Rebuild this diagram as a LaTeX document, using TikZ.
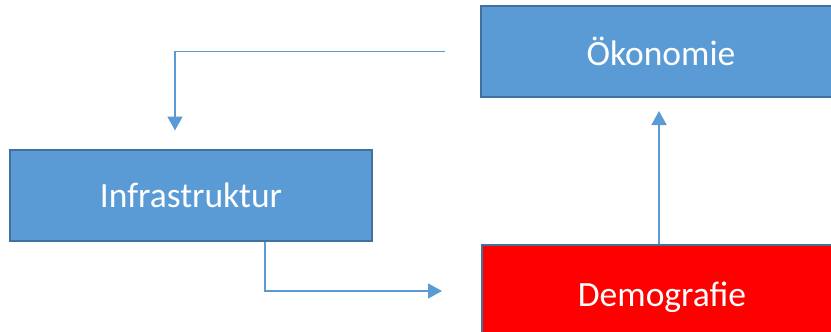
\documentclass[tikz,border=0pt]{standalone}
\usepackage{fontspec}
\setmainfont{Carlito}
\usetikzlibrary{arrows.meta}
\definecolor{boxblue}{HTML}{5B9BD5}
\definecolor{boxedge}{HTML}{41719C}
\definecolor{boxred}{HTML}{FF0000}
\tikzset{
  box/.style={draw=boxedge, line width=2pt, fill=boxblue, text=white,
    minimum width=360pt, minimum height=91pt, inner sep=0pt,
    font=\fontsize{35.5}{42}\selectfont},
  redbox/.style={box, fill=boxred},
  conn/.style={draw=boxblue, line width=1.7pt,
    -{Triangle[width=15pt,length=14pt]}}
}
\begin{document}
\begin{tikzpicture}[x=1pt,y=-1pt]
\useasboundingbox (0,0) rectangle (831,332);
\clip (0,0) rectangle (831,332);
\node[box] (oko) at (661,51.5) {Ökonomie};
\node[box, minimum width=362pt] (inf) at (191,195) {Infrastruktur};
\node[redbox, minimum height=104pt] (demo) at (662,297) {Demografie};
\draw[conn] ([xshift=-35pt]oko.west) -| ([xshift=-16pt,yshift=18pt]inf.north);
\draw[conn] ([xshift=74pt]inf.south) |- ([xshift=-39pt,yshift=6pt]demo.west);
\draw[conn] ([xshift=-3pt]demo.north) -- ([xshift=-2pt,yshift=-13pt]oko.south);
\end{tikzpicture}
\end{document}
